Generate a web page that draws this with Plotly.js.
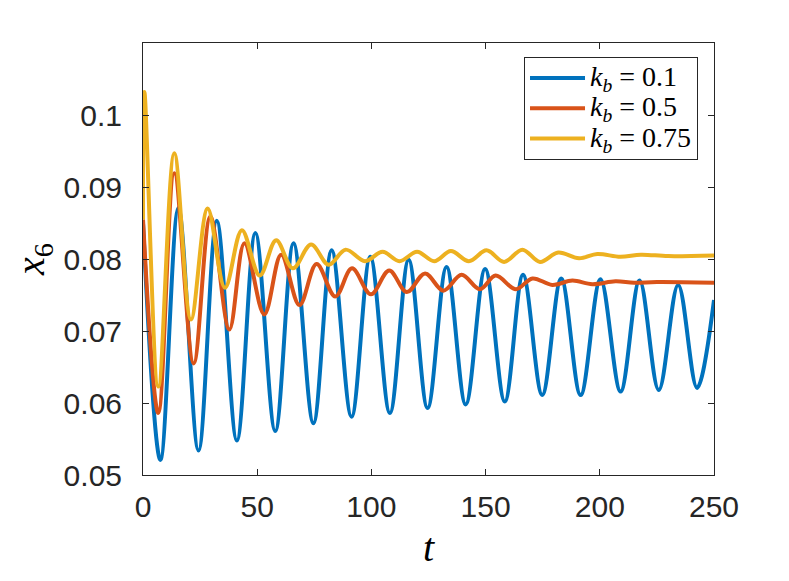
<!DOCTYPE html>
<html>
<head>
<meta charset="utf-8">
<script src="https://cdn.plot.ly/plotly-3.0.1.min.js"></script>
<style>
  html, body { margin: 0; padding: 0; background: #fff; }
  #plot-x6 { width: 789px; height: 581px; }
</style>
</head>
<body>
<div id="plot-x6"></div>
<script>
// values (peaks / troughs of each curve)
var t_kb01 = [0, 7.6, 15.5, 24.3, 32.3, 41.1, 49.2, 57.9, 65.9, 74.6, 82.6, 91.3, 99.5,
              108.1, 116.3, 124.6, 132.9, 141.3, 149.8, 158.4, 166.4, 174.8, 183.1,
              191.6, 200.3, 209.1, 217.4, 225.8, 234.3, 242.6, 250];
var x6_kb01 = [0.0850, 0.0521, 0.0871, 0.0534, 0.0853, 0.0548, 0.0836, 0.0561, 0.0822,
               0.0572, 0.0812, 0.0581, 0.0803, 0.0586, 0.0799, 0.0593, 0.0789, 0.0598,
               0.0786, 0.0602, 0.0778, 0.0611, 0.0773, 0.0611, 0.0772, 0.0616, 0.0770,
               0.0618, 0.0764, 0.0621, 0.0743];

var t_kb05 = [0, 6.7, 13.7, 22.2, 29.5, 37.8, 44.4, 53.1, 60.5, 68.5, 76, 84.2, 91.5,
              99.8, 107.8, 115.5, 123.5, 131.5, 139.5, 147.5, 154.4, 163.2, 170.5,
              179.2, 188, 196.7, 206.9, 215, 225, 250];
var x6_kb05 = [0.0855, 0.0586, 0.0919, 0.0655, 0.0859, 0.0702, 0.0822, 0.0723, 0.0806,
               0.0736, 0.0793, 0.0748, 0.0787, 0.0751, 0.0784, 0.0754, 0.0780, 0.0756,
               0.0778, 0.0758, 0.0777, 0.0758, 0.0773, 0.0764, 0.0770, 0.0765, 0.0769,
               0.0767, 0.0768, 0.0767];

var t_kb075 = [0, 0.6, 6.7, 13.7, 21, 28.3, 35.9, 43.3, 51.1, 58.3, 65.6, 73.6, 81.3,
               88.7, 97.2, 104.9, 112.3, 120, 127.5, 134.8, 142.7, 150.4, 158.1, 166.1,
               173.8, 181.8, 190.9, 198.9, 209, 218, 230, 250];
var x6_kb075 = [0.0855, 0.1032, 0.0623, 0.0947, 0.0716, 0.0870, 0.0760, 0.0840, 0.0777,
                0.0826, 0.0787, 0.0820, 0.0792, 0.0813, 0.0797, 0.0810, 0.0797, 0.0810,
                0.0797, 0.0811, 0.0797, 0.0812, 0.0796, 0.0813, 0.0796, 0.0809, 0.0801,
                0.0807, 0.0803, 0.0806, 0.0804, 0.0805];

var kb_labels = ['0.1', '0.5', '0.75'];

var x_ticks = [0, 50, 100, 150, 200, 250];
var y_ticks = [0.05, 0.06, 0.07, 0.08, 0.09, 0.1];
var y_ticktext = ['0.05', '0.06', '0.07', '0.08', '0.09', '0.1'];

var colors = {blue: '#0072BD', orange: '#D95319', yellow: '#EDB120'};

function legend_name(v) {
    // bigger glyphs than the legend's base font, which sets the row spacing
    return '<span style="font-size:28px"><i>k</i><sub><i>b</i></sub> = ' + v + '</span>';
}

function plot_x6() {
    'use strict';

    var trace1 = {
        type: 'scatter', mode: 'lines',
        name: legend_name(kb_labels[0]),
        x: t_kb01, y: x6_kb01,
        line: {color: colors.blue, width: 4, shape: 'spline', smoothing: 1}
    };

    var trace2 = {
        type: 'scatter', mode: 'lines',
        name: legend_name(kb_labels[1]),
        x: t_kb05, y: x6_kb05,
        line: {color: colors.orange, width: 4, shape: 'spline', smoothing: 1}
    };

    var trace3 = {
        type: 'scatter', mode: 'lines',
        name: legend_name(kb_labels[2]),
        x: t_kb075, y: x6_kb075,
        line: {color: colors.yellow, width: 4, shape: 'spline', smoothing: 1}
    };

    var axis_common = {
        showline: true,
        mirror: 'ticks',
        linecolor: '#262626',
        linewidth: 1,
        ticks: 'inside',
        ticklen: 6,
        tickwidth: 1,
        tickcolor: '#262626',
        showgrid: false,
        zeroline: false,
        tickfont: {family: 'Liberation Sans, Arial, sans-serif', size: 30, color: '#262626'}
    };

    var layout = {
        width: 789,
        height: 581,
        margin: {l: 143, r: 75, t: 43, b: 106, pad: 0},
        paper_bgcolor: '#ffffff',
        plot_bgcolor: '#ffffff',
        showlegend: true,
        xaxis: Object.assign({}, axis_common, {
            range: [0, 250],
            tickvals: x_ticks,
            ticklabelstandoff: 5,
            title: {
                text: '<i>t</i>',
                font: {family: 'Liberation Serif, serif', size: 40, color: '#000'},
                standoff: 10
            }
        }),
        yaxis: Object.assign({}, axis_common, {
            range: [0.05, 0.11],
            tickvals: y_ticks,
            ticktext: y_ticktext,
            ticklabelstandoff: 14,
            title: {
                text: '<i>x</i><sub>6</sub>',
                font: {family: 'Liberation Serif, serif', size: 40, color: '#000'},
                standoff: 6
            }
        }),
        legend: {
            x: 0.972, xanchor: 'right',
            y: 0.968, yanchor: 'top',
            bgcolor: '#ffffff',
            bordercolor: '#262626',
            borderwidth: 1,
            itemwidth: 55,
            tracegroupgap: 0,
            font: {family: 'Liberation Serif, serif', size: 21, color: '#000'}
        }
    };

    Plotly.newPlot('plot-x6', [trace1, trace2, trace3], layout, {displayModeBar: false, staticPlot: true});
}

plot_x6();
</script>
</body>
</html>
